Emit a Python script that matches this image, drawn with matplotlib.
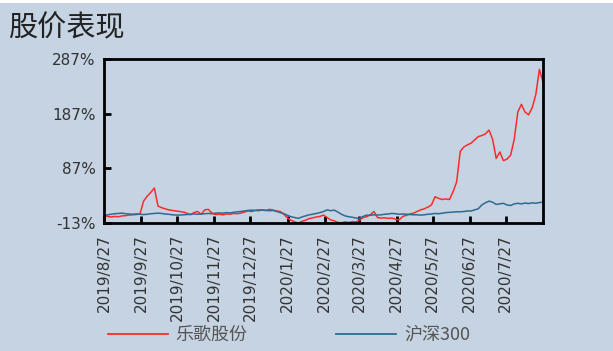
import matplotlib.pyplot as plt
import pandas as pd
from matplotlib.lines import Line2D

plt.rcParams['font.family'] = ['DejaVu Sans', 'Noto Sans CJK SC']

title = "股价表现"
series_names = ["乐歌股份", "沪深300"]

# one point every 3 calendar days, 2019/8/27 .. 2020/8/27
dates = pd.date_range("2019-08-27", periods=123, freq="3D")

# 乐歌股份 cumulative return, %
lege = [0, -1, -2, -1, -1.5, 0, 0.5, 1.5, 2, 2.5,
        3.5, 27, 36, 43, 51, 18, 15, 13, 11, 10,
        9, 8, 7, 5, 2, 6, 8, 3, 11, 12,
        5, 2.5, 3, 2, 3.5, 3, 4.5, 4, 5, 7,
        9, 8, 10, 9.5, 11, 10, 12, 10.5, 9, 8,
        3, -4, -8, -11, -13, -10, -8, -5, -3.5, -2,
        -1, 1.5, -3, -7.5, -9, -12, -12.5, -11, -12, -10.5,
        -11, -8, -3, -1.5, 2, 8, -3, -4, -3.5, -4.5,
        -4, -6, -7.5, -1, 1, 3.5, 5, 8, 11, 13,
        16, 20, 35, 32, 30, 31, 30, 44, 62, 118,
        126, 130, 133, 139, 145, 147, 150, 157, 140, 105,
        117, 101, 104, 111, 140, 190, 204, 190, 185, 198,
        222, 268, 245]

# 沪深300 cumulative return, %
hs300 = [0, 2, 3, 4, 4.5, 5, 4, 3.5, 3, 3.5,
         3, 2.5, 3, 4, 4.5, 5, 4.5, 3.5, 3, 2,
         1.5, 1.5, 2, 2.5, 3, 3.5, 3, 3.5, 4, 4.5,
         4, 5, 5.5, 5, 6, 5.5, 6.5, 7.5, 8, 9,
         10, 10.5, 10, 11, 10.5, 10, 9.5, 10, 8, 6,
         4, 1, -1.5, -3, -4.5, -2, 0, 2, 3, 4.5,
         6, 8, 11, 9.5, 10.5, 7, 3, 0, -1.5, -2.5,
         -4, -4.5, -1, 1.5, 1, 2, 1.5, 2, 3, 3.5,
         4.5, 4, 3, 3.5, 3, 2.5, 2, 2, 1.5, 2,
         3, 3.5, 4.5, 4, 5, 6, 6.5, 7, 7.5, 7.5,
         8, 9, 9, 11, 13, 20, 24, 27, 25, 21,
         22, 23, 20, 19, 22, 23, 22, 23.5, 22.5, 24,
         23, 24.5, 25]

tick_dates = pd.date_range("2019-08-01", periods=12, freq="MS") + pd.Timedelta(days=26)
tick_labels = ["2019/8/27", "2019/9/27", "2019/10/27", "2019/11/27", "2019/12/27",
               "2020/1/27", "2020/2/27", "2020/3/27", "2020/4/27", "2020/5/27",
               "2020/6/27", "2020/7/27"]
y_ticks = [-13, 87, 187, 287]

bg = "#c5d3e2"
red = "#ff2a2a"
blue = "#2f6a92"

fig = plt.figure(figsize=(6.13, 3.51), dpi=100, facecolor=bg)
# white strip at the very top
fig.patches.append(plt.Rectangle((0, 1 - 3 / 351), 1, 3 / 351, transform=fig.transFigure,
                                 facecolor="white", edgecolor="none"))

ax = fig.add_axes([104 / 613, (351 - 223) / 351, 439 / 613, 164 / 351])
ax.set_facecolor(bg)

ax.plot(dates, lege, color=red, lw=1.1)
ax.plot(dates, hs300, color=blue, lw=1.1)

ax.set_xlim(pd.Timestamp("2019-08-27"), pd.Timestamp("2020-08-27"))
ax.set_ylim(-13, 287)
ax.set_yticks(y_ticks)
ax.set_yticklabels([f"{v}%" for v in y_ticks], fontsize=11, color="#333333")
ax.set_xticks(tick_dates)
ax.set_xticklabels(tick_labels, rotation=90, fontsize=11, color="#333333")

for s in ax.spines.values():
    s.set_linewidth(2)
    s.set_color("black")
ax.tick_params(axis="both", direction="in", length=5, width=2)
ax.tick_params(axis="x", pad=8)
ax.tick_params(axis="y", pad=6)

fig.text(8 / 613, 1 - 28 / 351, title, fontsize=21, color="#222222",
         family=["Noto Sans CJK SC"], va="center", ha="left")

handles = [Line2D([], [], color=red, lw=1.3), Line2D([], [], color=blue, lw=1.3)]
leg = fig.legend(handles, series_names, loc="center left",
                 bbox_to_anchor=(108 / 613, 1 - 335 / 351), ncol=2, frameon=False,
                 borderpad=0, borderaxespad=0, handlelength=3.3, handletextpad=0.45,
                 columnspacing=4.9, prop={"family": ["Noto Sans CJK SC"], "size": 13})
for t in leg.get_texts():
    t.set_color("#555555")

fig.savefig("out.png", dpi=100, facecolor=bg)
